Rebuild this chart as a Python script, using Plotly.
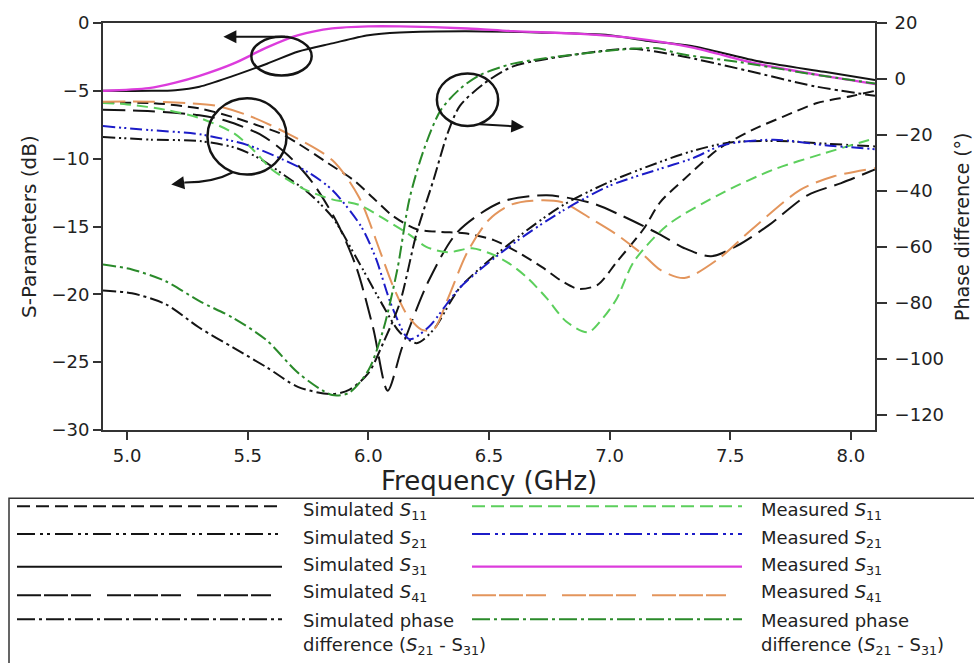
import plotly.graph_objects as go

# ---------------- data ----------------
f_s11_sim = [4.9, 5.1, 5.3, 5.45, 5.55, 5.63, 5.71, 5.83, 5.94, 6.02, 6.1, 6.2, 6.3, 6.4, 6.52, 6.62, 6.72, 6.8, 6.87, 6.95, 7.03, 7.14, 7.21, 7.31, 7.45, 7.59, 7.72, 7.86, 8.0, 8.1]
s11_sim = [-5.9, -5.9, -6.3, -7.0, -7.6, -8.1, -8.9, -10.3, -11.6, -12.9, -14.2, -15.2, -15.4, -15.5, -16.0, -16.9, -18.0, -19.0, -19.6, -19.3, -17.6, -15.2, -13.2, -11.5, -9.3, -7.9, -6.9, -5.9, -5.4, -5.0]

f_s21_sim = [4.9, 5.1, 5.3, 5.45, 5.55, 5.65, 5.75, 5.85, 5.95, 6.05, 6.13, 6.2, 6.27, 6.38, 6.59, 6.8, 7.0, 7.2, 7.35, 7.5, 7.7, 7.9, 8.1]
s21_sim = [-8.4, -8.6, -8.7, -9.2, -10.0, -11.2, -12.5, -14.3, -17.3, -20.5, -22.8, -23.6, -22.6, -19.5, -16.2, -13.5, -11.7, -10.3, -9.4, -8.8, -8.7, -8.9, -9.1]

f_s31_sim = [4.9, 5.1, 5.2, 5.3, 5.44, 5.58, 5.71, 5.85, 6.0, 6.13, 6.4, 6.7, 7.0, 7.15, 7.34, 7.61, 7.89, 8.1]
s31_sim = [-5.0, -5.0, -4.95, -4.7, -3.9, -3.0, -2.1, -1.5, -0.9, -0.7, -0.6, -0.7, -0.9, -1.3, -1.7, -2.8, -3.6, -4.2]

f_s41_sim = [4.9, 5.1, 5.3, 5.41, 5.56, 5.67, 5.77, 5.87, 5.95, 6.02, 6.08, 6.14, 6.25, 6.37, 6.55, 6.74, 6.93, 7.05, 7.21, 7.31, 7.42, 7.53, 7.66, 7.82, 7.96, 8.1]
s41_sim = [-6.4, -6.5, -6.8, -7.2, -8.3, -9.8, -11.8, -14.7, -18.0, -22.5, -27.1, -23.9, -19.0, -15.4, -13.2, -12.7, -13.3, -14.2, -15.6, -16.6, -17.2, -16.4, -14.9, -12.7, -11.8, -10.8]

f_ph_sim = [4.9, 5.02, 5.16, 5.3, 5.44, 5.58, 5.71, 5.85, 5.92, 6.0, 6.06, 6.13, 6.2, 6.27, 6.33, 6.38, 6.48, 6.6, 6.88, 7.09, 7.29, 7.57, 7.85, 8.1]
ph_sim = [-75.5, -76.5, -80.4, -88.8, -95.9, -103.0, -110.0, -112.5, -111.0, -105.0, -94.5, -80.0, -55.0, -36.0, -19.0, -9.5, -1.6, 4.5, 9.0, 10.8, 8.3, 3.0, -2.6, -6.0]

f_s11_meas = [4.9, 5.0, 5.16, 5.3, 5.44, 5.52, 5.6, 5.67, 5.74, 5.85, 5.96, 6.08, 6.17, 6.24, 6.33, 6.43, 6.52, 6.59, 6.66, 6.74, 6.82, 6.91, 6.97, 7.03, 7.1, 7.24, 7.47, 7.68, 7.89, 8.1]
s11_meas = [-5.9, -6.0, -6.4, -7.0, -8.1, -9.3, -10.8, -11.6, -12.3, -13.0, -13.4, -14.6, -15.6, -16.5, -16.9, -16.6, -17.1, -17.8, -18.8, -20.3, -22.0, -22.8, -21.8, -20.3, -17.6, -14.9, -12.5, -10.8, -9.6, -8.5]

f_s21_meas = [4.9, 5.1, 5.3, 5.5, 5.65, 5.75, 5.85, 5.97, 6.03, 6.1, 6.17, 6.25, 6.38, 6.59, 6.8, 7.0, 7.2, 7.34, 7.47, 7.68, 7.89, 8.1]
s21_meas = [-7.6, -7.9, -8.2, -9.0, -10.1, -11.0, -12.3, -15.0, -17.3, -21.0, -23.3, -22.4, -19.5, -16.4, -13.9, -12.0, -10.8, -10.0, -9.0, -8.6, -9.0, -9.3]

f_s31_meas = [4.9, 5.09, 5.2, 5.3, 5.44, 5.58, 5.71, 5.85, 6.0, 6.13, 6.41, 6.6, 6.88, 7.09, 7.34, 7.61, 7.89, 8.1]
s31_meas = [-5.0, -4.8, -4.4, -3.9, -3.0, -1.8, -0.9, -0.4, -0.25, -0.25, -0.4, -0.6, -0.8, -1.1, -1.8, -3.0, -3.9, -4.5]

f_s41_meas = [4.9, 5.1, 5.25, 5.37, 5.5, 5.66, 5.85, 5.96, 6.05, 6.1, 6.16, 6.22, 6.27, 6.33, 6.41, 6.5, 6.59, 6.68, 6.8, 6.93, 7.03, 7.14, 7.21, 7.31, 7.45, 7.59, 7.79, 7.93, 8.1]
s41_meas = [-5.8, -5.8, -5.9, -6.1, -6.8, -8.1, -10.1, -12.8, -16.9, -19.3, -21.5, -22.6, -22.6, -20.3, -16.9, -14.5, -13.4, -13.1, -13.2, -14.5, -15.6, -17.1, -18.2, -18.8, -17.4, -15.2, -12.3, -11.3, -10.7]

f_ph_meas = [4.9, 5.02, 5.16, 5.3, 5.44, 5.58, 5.71, 5.85, 5.92, 6.0, 6.06, 6.12, 6.17, 6.23, 6.3, 6.38, 6.46, 6.6, 6.88, 7.09, 7.2, 7.29, 7.54, 7.82, 8.1]
ph_meas = [-66.2, -68.0, -72.2, -79.3, -85.3, -93.4, -105.0, -112.8, -112.0, -104.0, -90.0, -68.0, -42.9, -25.2, -11.1, -3.5, 1.3, 5.5, 9.0, 10.8, 11.0, 9.0, 6.0, 2.0, -1.6]

x_ticks = [5.0, 5.5, 6.0, 6.5, 7.0, 7.5, 8.0]
y_ticks = [0, -5, -10, -15, -20, -25, -30]
y2_ticks = [20, 0, -20, -40, -60, -80, -100, -120]

legend_left = ["Simulated <i>S</i><sub>11</sub>", "Simulated <i>S</i><sub>21</sub>",
               "Simulated <i>S</i><sub>31</sub>", "Simulated <i>S</i><sub>41</sub>",
               "Simulated phase", "difference (<i>S</i><sub>21</sub> - S<sub>31</sub>)"]
legend_right = ["Measured <i>S</i><sub>11</sub>", "Measured <i>S</i><sub>21</sub>",
                "Measured <i>S</i><sub>31</sub>", "Measured <i>S</i><sub>41</sub>",
                "Measured phase", "difference (<i>S</i><sub>21</sub> - S<sub>31</sub>)"]

# ---------------- styles ----------------
BLACK = "#141414"
GREEN_L = "#5ccf5c"
BLUE = "#1c1cc8"
MAGENTA = "#dc3cdc"
ORANGE = "#e3955c"
GREEN_D = "#2a8a2a"

D_S11 = "11px,6px"
D_S21 = "12px,4px,2px,3px,2px,4px"
D_S41 = "22px,8px"
D_PH = "13px,4px,3px,4px"

L_S11 = "13px,6px"
L_S21 = "18px,5px,3px,4px,3px,5px"
L_S41 = "24px,3px,24px,3px,20px,16px"
L_PH = "18px,4px,3px,4px"

FONT = "DejaVu Sans"
TXT = "#222222"

fig = go.Figure()


def add(x, y, color, dash, yaxis="y", width=2.0):
    fig.add_trace(go.Scatter(
        x=x, y=y, mode="lines", yaxis=yaxis, hoverinfo="skip",
        line=dict(color=color, dash=dash, width=width, shape="spline", smoothing=0.8)))


add(f_s11_sim, s11_sim, BLACK, D_S11)
add(f_s41_sim, s41_sim, BLACK, D_S41)
add(f_s21_sim, s21_sim, BLACK, D_S21)
add(f_s31_sim, s31_sim, BLACK, "solid")
add(f_ph_sim, ph_sim, BLACK, D_PH, yaxis="y2")
add(f_s11_meas, s11_meas, GREEN_L, D_S11)
add(f_s41_meas, s41_meas, ORANGE, D_S41)
add(f_s21_meas, s21_meas, BLUE, D_S21)
add(f_s31_meas, s31_meas, MAGENTA, "solid", width=2.4)
add(f_ph_meas, ph_meas, GREEN_D, D_PH, yaxis="y2")

# ---------------- layout ----------------
W, H = 974, 663
ML, MR, MT, MB = 103, 99, 19, 233
PW, PH = W - ML - MR, H - MT - MB


def px(xp):
    return (xp - ML) / PW


def py(yp):
    return (H - MB - yp) / PH


axis_common = dict(showline=True, linecolor="#333333", linewidth=2, showgrid=False,
                   zeroline=False, ticks="outside", tickcolor="#333333", tickwidth=1.5,
                   tickfont=dict(family=FONT, size=18, color=TXT))

fig.update_layout(
    width=W, height=H, margin=dict(l=ML, r=MR, t=MT, b=MB),
    paper_bgcolor="white", plot_bgcolor="white", showlegend=False,
    xaxis=dict(range=[4.9, 8.1], tickvals=x_ticks, ticktext=[f"{v:.1f}" for v in x_ticks],
               ticklen=8, mirror=True, **axis_common),
    yaxis=dict(range=[-30, 0], tickvals=y_ticks, ticklen=8, **axis_common),
    yaxis2=dict(range=[-125.3, 20], tickvals=y2_ticks, ticklen=10, overlaying="y",
                side="right", ticklabelstandoff=4, **axis_common),
)

# axis titles
fig.add_annotation(text="Frequency (GHz)", xref="paper", yref="paper", x=px(489), y=py(482),
                   xanchor="center", yanchor="middle",
                   showarrow=False, font=dict(family=FONT, size=26, color=TXT))
fig.add_annotation(text="S-Parameters (dB)", xref="paper", yref="paper", x=px(29), y=py(225),
                   xanchor="center", yanchor="middle",
                   textangle=-90, showarrow=False, font=dict(family=FONT, size=20, color=TXT))
fig.add_annotation(text="Phase difference (°)", xref="paper", yref="paper", x=px(962), y=py(225),
                   xanchor="center", yanchor="middle",
                   textangle=-90, showarrow=False, font=dict(family=FONT, size=19, color=TXT))

# circles and arrows marking which axis the curves belong to
for (x0, x1, y0, y1) in [(5.515, 5.765, -1.02, -3.87), (5.333, 5.661, -5.55, -11.17),
                         (6.284, 6.538, -3.72, -7.59)]:
    fig.add_shape(type="circle", xref="x", yref="y", x0=x0, x1=x1, y0=y0, y1=y1,
                  line=dict(color=BLACK, width=2.5))

fig.add_annotation(x=5.399, y=-1.02, ax=5.661, ay=-1.02, xref="x", yref="y", axref="x", ayref="y",
                   showarrow=True, arrowhead=2, arrowsize=1.3, arrowwidth=2, arrowcolor=BLACK, text="")
fig.add_annotation(x=6.646, y=-7.66, ax=6.455, ay=-7.45, xref="x", yref="y", axref="x", ayref="y",
                   showarrow=True, arrowhead=2, arrowsize=1.3, arrowwidth=2, arrowcolor=BLACK, text="")
fig.add_shape(type="path", xref="x", yref="y", path="M 5.436,-11.02 Q 5.36,-11.75 5.24,-11.75",
              line=dict(color=BLACK, width=2))
fig.add_annotation(x=5.183, y=-11.9, ax=5.245, ay=-11.75, xref="x", yref="y", axref="x", ayref="y",
                   showarrow=True, arrowhead=2, arrowsize=1.3, arrowwidth=2, arrowcolor=BLACK, text="")

# ---------------- manual legend ----------------
fig.add_shape(type="rect", xref="paper", yref="paper", x0=px(9), x1=px(990), y0=py(700), y1=py(499),
              line=dict(color="#333333", width=1.5))

rows_line = [507, 535, 568, 597, 621]
rows_text = [512, 540, 567, 595, 622, 648]
left_styles = [(BLACK, L_S11), (BLACK, L_S21), (BLACK, "solid"), (BLACK, L_S41), (BLACK, L_PH)]
right_styles = [(GREEN_L, L_S11), (BLUE, L_S21), (MAGENTA, "solid"), (ORANGE, L_S41), (GREEN_D, L_PH)]

for i, yl in enumerate(rows_line):
    c, d = left_styles[i]
    fig.add_shape(type="line", xref="paper", yref="paper", x0=px(17), x1=px(282), y0=py(yl), y1=py(yl),
                  line=dict(color=c, dash=d, width=2))
    c, d = right_styles[i]
    fig.add_shape(type="line", xref="paper", yref="paper", x0=px(472), x1=px(742), y0=py(yl), y1=py(yl),
                  line=dict(color=c, dash=d, width=2.2 if d == "solid" else 2))

for i, yt in enumerate(rows_text):
    fig.add_annotation(text=legend_left[i], xref="paper", yref="paper", x=px(301), y=py(yt),
                       xanchor="left", yanchor="middle", showarrow=False,
                       font=dict(family=FONT, size=18, color=TXT))
    fig.add_annotation(text=legend_right[i], xref="paper", yref="paper", x=px(759), y=py(yt),
                       xanchor="left", yanchor="middle", showarrow=False,
                       font=dict(family=FONT, size=18, color=TXT))

fig.write_html("out.html")
